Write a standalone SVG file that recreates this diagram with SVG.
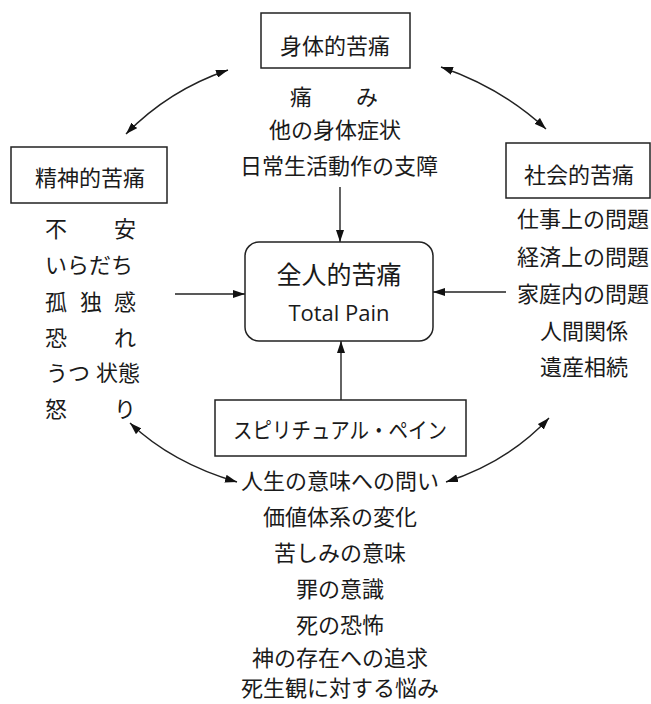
<svg xmlns="http://www.w3.org/2000/svg" width="651" height="704" viewBox="0 0 651 704">
<defs>
<style>
.t{font-family:"Noto Sans CJK JP","Noto Sans",sans-serif;font-size:22px;fill:#1a1a1a;dominant-baseline:central}
.c{text-anchor:middle}
.box{fill:#fff;stroke:#222;stroke-width:1.5}
.ln{fill:none;stroke:#222;stroke-width:1.4}
</style>
<marker id="ah" viewBox="0 0 12 8" refX="12" refY="4" markerWidth="12" markerHeight="8" markerUnits="userSpaceOnUse" orient="auto-start-reverse">
<path d="M0,0 L12,4 L0,8 Z" fill="#111"/>
</marker>
</defs>
<rect width="651" height="704" fill="#fff"/>

<g id="connectors">
<path class="ln" d="M228,70 Q169,90 126,134" marker-start="url(#ah)" marker-end="url(#ah)"/>
<path class="ln" d="M441,67 Q502,88 546,129" marker-start="url(#ah)" marker-end="url(#ah)"/>
<path class="ln" d="M130,423 Q172,463 237,482" marker-start="url(#ah)" marker-end="url(#ah)"/>
<path class="ln" d="M549,418 Q508,462 446,482" marker-start="url(#ah)" marker-end="url(#ah)"/>
<line class="ln" x1="340" y1="187" x2="340" y2="242" marker-end="url(#ah)"/>
<line class="ln" x1="175" y1="294" x2="245" y2="294" marker-end="url(#ah)"/>
<line class="ln" x1="506" y1="292" x2="433" y2="292" marker-end="url(#ah)"/>
<line class="ln" x1="341" y1="400" x2="341" y2="341" marker-end="url(#ah)"/>
</g>

<g id="physical">
<rect class="box" x="261" y="13" width="149" height="55"/>
<text class="t c" x="335" y="44">身体的苦痛</text>
<text class="t"><tspan x="290" y="95">痛</tspan><tspan x="356" y="95">み</tspan></text>
<text class="t c" x="335" y="128">他の身体症状</text>
<text class="t c" x="339" y="164">日常生活動作の支障</text>
</g>

<g id="mental">
<rect class="box" x="11" y="147" width="156" height="56"/>
<text class="t c" x="90" y="176">精神的苦痛</text>
<text class="t"><tspan x="45" y="227">不</tspan><tspan x="114" y="227">安</tspan></text>
<text class="t" x="45" y="263">いらだち</text>
<text class="t"><tspan x="45" y="300">孤</tspan><tspan x="80" y="300">独</tspan><tspan x="114" y="300">感</tspan></text>
<text class="t"><tspan x="45" y="336">恐</tspan><tspan x="114" y="336">れ</tspan></text>
<text class="t"><tspan x="46" y="371">うつ</tspan><tspan x="96" y="371">状態</tspan></text>
<text class="t"><tspan x="45" y="407">怒</tspan><tspan x="114" y="407">り</tspan></text>
</g>

<g id="social">
<rect class="box" x="506" y="143" width="144" height="55"/>
<text class="t c" x="579" y="173">社会的苦痛</text>
<text class="t c" x="583" y="217">仕事上の問題</text>
<text class="t c" x="583" y="255">経済上の問題</text>
<text class="t c" x="583" y="292">家庭内の問題</text>
<text class="t c" x="584" y="329">人間関係</text>
<text class="t c" x="584" y="365">遺産相続</text>
</g>

<g id="total">
<rect class="box" x="245" y="242" width="188" height="99" rx="14" ry="14"/>
<text class="t c" x="339" y="273" style="font-size:25px">全人的苦痛</text>
<text class="t c" x="339" y="312" style="font-family:'Open Sans','Noto Sans',sans-serif;font-size:22px">Total Pain</text>
</g>

<g id="spiritual">
<rect class="box" x="215" y="400" width="251" height="56"/>
<text class="t c" x="340" y="428" textLength="214" lengthAdjust="spacingAndGlyphs">スピリチュアル・ペイン</text>
<text class="t c" x="340" y="479">人生の意味への問い</text>
<text class="t c" x="340" y="515">価値体系の変化</text>
<text class="t c" x="340" y="551">苦しみの意味</text>
<text class="t c" x="340" y="587">罪の意識</text>
<text class="t c" x="340" y="623">死の恐怖</text>
<text class="t c" x="340" y="656">神の存在への追求</text>
<text class="t c" x="340" y="686">死生観に対する悩み</text>
</g>
</svg>
